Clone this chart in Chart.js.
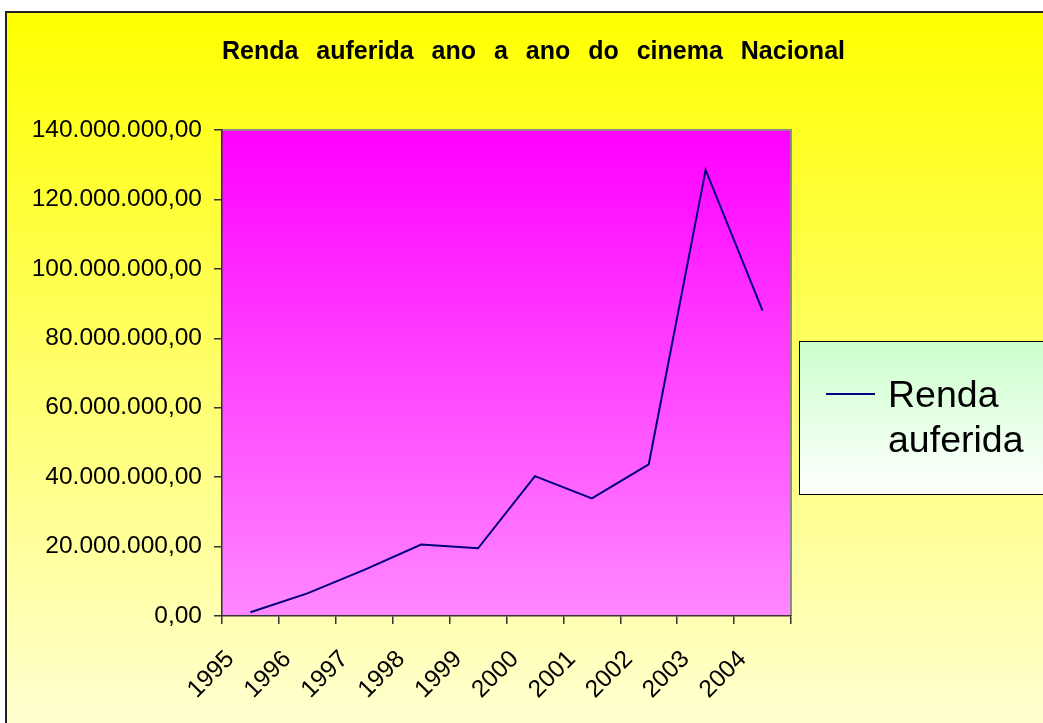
<!DOCTYPE html>
<html>
<head>
<meta charset="utf-8">
<script src="https://cdn.jsdelivr.net/npm/chart.js@4"></script>
<style>
  html, body { margin: 0; padding: 0; background: #fff; overflow: hidden; }
  canvas { display: block; }
</style>
</head>
<body>
<canvas id="grafico" width="1067" height="740"></canvas>
<script>
// dados
var anos = ['1995', '1996', '1997', '1998', '1999', '2000', '2001', '2002', '2003', '2004'];
var renda = [1100000, 6500000, 13300000, 20600000, 19500000, 40300000, 33900000, 43700000, 128500000, 88000000];
var yMax = 140000000;
var yPasso = 20000000;

var fonte = "'Liberation Sans', Arial, sans-serif";

function formata(v) {
  var s = Math.round(v).toString().replace(/\B(?=(\d{3})+(?!\d))/g, '.');
  return s + ',00';
}

// fundo, area do grafico e bordas
var fundo = {
  id: 'fundo',
  beforeDraw: function (chart) {
    var ctx = chart.ctx;
    var a = chart.chartArea;
    ctx.save();
    var g = ctx.createLinearGradient(0, 12, 0, chart.height);
    g.addColorStop(0, '#ffff00');
    g.addColorStop(1, '#ffffd6');
    ctx.fillStyle = g;
    ctx.fillRect(6, 12, chart.width, chart.height);
    ctx.lineWidth = 2;
    ctx.strokeStyle = '#222';
    ctx.strokeRect(6, 12, chart.width + 10, chart.height + 10);

    var p = ctx.createLinearGradient(0, a.top, 0, a.bottom);
    p.addColorStop(0, '#ff00ff');
    p.addColorStop(1, '#ff88ff');
    ctx.fillStyle = p;
    ctx.fillRect(a.left, a.top, a.right - a.left, a.bottom - a.top);
    ctx.strokeStyle = '#8c8c8c';
    ctx.lineWidth = 2;
    ctx.beginPath();
    ctx.moveTo(a.left, a.top);
    ctx.lineTo(a.right, a.top);
    ctx.lineTo(a.right, a.bottom);
    ctx.stroke();
    ctx.restore();
    ctx.wordSpacing = '11px';
  },
  afterDraw: function (chart) {
    var ctx = chart.ctx;
    var a = chart.chartArea;
    ctx.wordSpacing = '0px';
    ctx.save();
    var x = a.right + 8, y = 341, w = 300, h = 153;
    var g = ctx.createLinearGradient(0, y, 0, y + h);
    g.addColorStop(0, '#ccffcc');
    g.addColorStop(1, '#ffffff');
    ctx.fillStyle = g;
    ctx.fillRect(x, y, w, h);
    ctx.strokeStyle = '#000';
    ctx.lineWidth = 1;
    ctx.strokeRect(x + 0.5, y + 0.5, w, h);

    var ds = chart.data.datasets[0];
    ctx.strokeStyle = ds.borderColor;
    ctx.lineWidth = 2;
    ctx.beginPath();
    ctx.moveTo(x + 27, 394);
    ctx.lineTo(x + 76, 394);
    ctx.stroke();

    ctx.fillStyle = '#000';
    ctx.font = '37.5px ' + fonte;
    ctx.textBaseline = 'alphabetic';
    var linhas = ds.label.split(' ');
    ctx.fillText(linhas[0], x + 89, 407);
    ctx.fillText(linhas[1], x + 89, 452);
    ctx.restore();
  }
};

new Chart(document.getElementById('grafico'), {
  type: 'line',
  data: {
    labels: anos,
    datasets: [{
      label: 'Renda auferida',
      data: renda,
      borderColor: '#000080',
      borderWidth: 2,
      pointRadius: 0,
      tension: 0,
      fill: false
    }]
  },
  options: {
    responsive: false,
    animation: false,
    layout: { padding: 0 },
    plugins: {
      legend: { display: false },
      tooltip: { enabled: false },
      title: {
        display: true,
        text: 'Renda auferida ano a ano do cinema Nacional',
        color: '#000',
        font: { family: fonte, size: 25, weight: 'bold' },
        padding: { top: 37, bottom: 63 }
      }
    },
    scales: {
      x: {
        type: 'category',
        offset: true,
        grid: { offset: true, drawOnChartArea: false, tickLength: 8, color: '#333', lineWidth: 1.5 },
        border: { color: '#333', width: 1.5 },
        ticks: {
          autoSkip: false,
          minRotation: 45,
          maxRotation: 45,
          labelOffset: -20,
          padding: 21,
          color: '#000',
          font: { family: fonte, size: 24.5 }
        },
        afterFit: function (s) { s.height = 124; }
      },
      y: {
        min: 0,
        max: yMax,
        grid: { drawOnChartArea: false, tickLength: 8, color: '#333', lineWidth: 1.5 },
        border: { color: '#333', width: 1.5 },
        ticks: {
          stepSize: yPasso,
          padding: 12,
          color: '#000',
          font: { family: fonte, size: 24.5 },
          callback: function (v) { return formata(v); }
        },
        afterFit: function (s) { s.width = 222; }
      },
      margem: {
        position: 'right',
        grid: { display: false },
        border: { display: false },
        ticks: { display: false },
        afterFit: function (s) { s.width = 276; }
      }
    }
  },
  plugins: [fundo]
});
</script>
</body>
</html>
